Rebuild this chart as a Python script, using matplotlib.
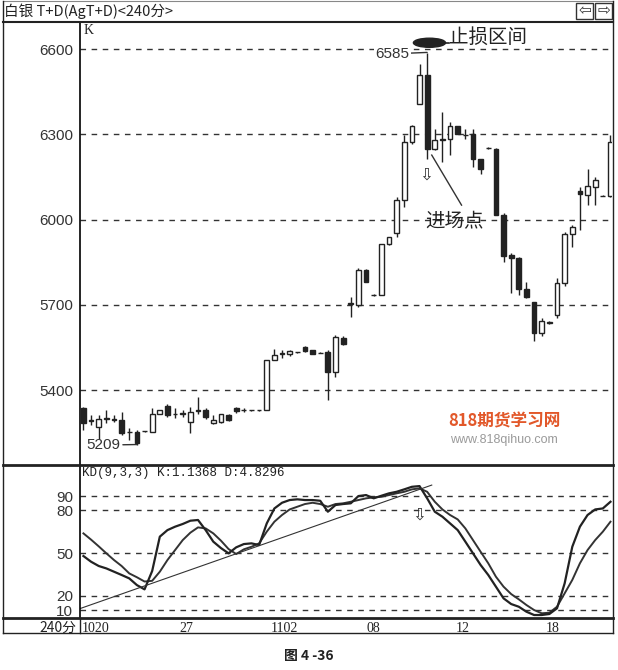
import numpy as np
import matplotlib.pyplot as plt
from matplotlib.lines import Line2D
from matplotlib.patches import Ellipse, Rectangle

# 240-minute candles, silver T+D
opens = [5336, 5295, 5271, 5300, 5297, 5295, 5254, 5254, 5256, 5254,
         5318, 5344, 5318, 5318, 5289, 5330, 5330, 5283, 5289, 5312,
         5336, 5330, 5330, 5330, 5330, 5505, 5528, 5526, 5534, 5552,
         5540, 5532, 5534, 5464, 5585, 5704, 5700, 5823, 5735, 5735,
         5914, 5954, 6068, 6273, 6407, 6507, 6250, 6281, 6285, 6328,
         6296, 6300, 6214, 6252, 6250, 6016, 5876, 5864, 5755, 5712,
         5601, 5638, 5665, 5776, 5949, 6101, 6086, 6115, 6084, 6084]
highs = [5342, 5312, 5312, 5330, 5312, 5324, 5266, 5260, 5258, 5336,
         5332, 5350, 5336, 5330, 5342, 5377, 5336, 5312, 5315, 5315,
         5340, 5336, 5332, 5332, 5505, 5546, 5540, 5540, 5536, 5556,
         5542, 5534, 5540, 5593, 5590, 5729, 5829, 5826, 5737, 5914,
         5940, 6080, 6296, 6331, 6547, 6585, 6320, 6378, 6343, 6330,
         6320, 6320, 6214, 6254, 6252, 6022, 5881, 5870, 5782, 5712,
         5654, 5645, 5794, 5957, 5981, 6115, 6179, 6150, 6086, 6296]
lows = [5260, 5277, 5230, 5283, 5289, 5242, 5225, 5209, 5254, 5254,
        5316, 5306, 5301, 5306, 5248, 5318, 5300, 5280, 5285, 5292,
        5320, 5324, 5328, 5328, 5330, 5505, 5515, 5522, 5532, 5535,
        5526, 5530, 5365, 5447, 5560, 5659, 5694, 5782, 5733, 5735,
        5910, 5940, 6045, 6267, 6405, 6214, 6244, 6203, 6226, 6302,
        6285, 6185, 6162, 6250, 6016, 5852, 5741, 5735, 5724, 5572,
        5589, 5632, 5654, 5765, 5905, 5963, 6051, 6051, 6082, 6080]
closes = [5283, 5293, 5300, 5302, 5298, 5248, 5252, 5213, 5256, 5318,
          5330, 5312, 5316, 5319, 5324, 5328, 5306, 5295, 5315, 5295,
          5328, 5331, 5330, 5330, 5505, 5523, 5530, 5538, 5534, 5538,
          5529, 5532, 5464, 5587, 5564, 5706, 5823, 5782, 5735, 5914,
          5940, 6068, 6273, 6328, 6507, 6250, 6281, 6283, 6328, 6302,
          6296, 6214, 6179, 6252, 6016, 5872, 5864, 5755, 5729, 5601,
          5642, 5640, 5776, 5949, 5975, 6089, 6117, 6138, 6084, 6273]

# KD(9,3,3)
k_vals = [47.9, 43.9, 40.9, 39.2, 36.9, 34.6, 32.2, 27.5, 24.5, 37.4,
          61.5, 66.1, 68.5, 70.4, 72.7, 73.2, 66.1, 58.0, 53.5, 49.8,
          54.0, 56.3, 56.8, 55.6, 70.8, 81.3, 85.3, 87.2, 87.7, 87.2,
          87.2, 86.7, 79.0, 83.7, 84.4, 84.9, 90.0, 90.7, 88.4, 90.2,
          91.9, 93.0, 94.7, 96.5, 97.0, 88.4, 79.0, 75.5, 70.8, 66.1,
          58.0, 49.8, 41.6, 34.6, 26.4, 18.2, 14.2, 12.3, 8.8, 6.5,
          6.5, 7.2, 11.2, 28.7, 54.4, 68.5, 76.7, 80.6, 81.3, 86.0]
d_vals = [63.8, 59.4, 54.7, 49.8, 45.1, 40.9, 35.7, 33.0, 30.0, 30.5,
          36.9, 45.1, 52.1, 59.1, 64.3, 68.0, 67.3, 63.8, 58.7, 52.8,
          49.3, 52.6, 54.4, 56.8, 65.0, 72.0, 76.7, 80.6, 82.5, 84.4,
          85.3, 84.4, 82.5, 84.4, 84.9, 86.0, 87.2, 88.4, 89.1, 89.5,
          90.7, 91.9, 93.0, 94.7, 95.4, 93.0, 86.0, 80.6, 76.7, 73.6,
          67.3, 59.1, 50.9, 42.8, 33.4, 26.4, 21.2, 17.5, 13.5, 10.0,
          7.7, 8.1, 12.3, 21.7, 31.1, 42.8, 52.1, 59.1, 65.0, 72.0]

price_ticks = [5400, 5700, 6000, 6300, 6600]
kd_ticks = [10, 20, 50, 80, 90]
date_labels = ['27', '1102', '08', '12', '18']
date_pos = [13.5, 26.3, 37.9, 49.6, 61.4]

# trend line on KD (start / end)
trend_x = [-0.45, 45.6]
trend_y = [11.0, 97.7]

plt.rcParams['font.family'] = ['Liberation Sans', 'Noto Sans CJK SC', 'DejaVu Sans']

W, H = 618, 670
fig = plt.figure(figsize=(W / 100, H / 100), dpi=100)


def fx(x):
    return x / W


def fy(y):
    return 1 - y / H


def fline(x0, y0, x1, y1, lw=1.0, color='#222222'):
    fig.add_artist(Line2D([fx(x0), fx(x1)], [fy(y0), fy(y1)], lw=lw, color=color))


ax = fig.add_axes([fx(80), fy(465), 532 / W, 443 / H])
ax2 = fig.add_axes([fx(80), fy(618), 532 / W, 153 / H], sharex=ax)

n = len(opens)
xs = np.arange(n)
dash = (0, (4, 4))

# candles
for i in range(n):
    o, h, l, c = opens[i], highs[i], lows[i], closes[i]
    ax.vlines(i, l, h, color='#222222', lw=1, zorder=2)
    up = c >= o
    ax.bar(i, abs(c - o), bottom=min(o, c), width=0.62,
           facecolor='white' if up else '#222222', edgecolor='#222222',
           lw=1, zorder=3)

for t in price_ticks:
    ax.axhline(t, color='#333333', lw=1, ls=dash, zorder=1)
ax.set_ylim(5137, 6695)
ax.set_xlim(-0.45, 69.2)
ax.set_yticks(price_ticks)
ax.set_yticklabels([str(t) for t in price_ticks], fontsize=11, color='#333333')
ax.tick_params(axis='y', length=0, pad=5)
ax.tick_params(axis='x', length=0, labelbottom=False)
for s in ['top', 'right', 'bottom']:
    ax.spines[s].set_visible(False)
ax.spines['left'].set_linewidth(1.2)
ax.text(0.006, 0.995, 'K', transform=ax.transAxes, va='top', ha='left',
        fontsize=10, family='Liberation Serif', color='#222222')

# annotations on price panel
ax.annotate('6585', xy=(45, 6588), xytext=(42.7, 6583), ha='right', va='center',
            fontsize=11, color='#333333', zorder=4,
            bbox=dict(boxstyle='square,pad=0.1', facecolor='white', edgecolor='none'),
            arrowprops=dict(arrowstyle='-', lw=1, color='#333333', shrinkA=0, shrinkB=0))
ax.annotate('5209', xy=(7, 5209), xytext=(4.8, 5207), ha='right', va='center',
            fontsize=11, color='#333333',
            arrowprops=dict(arrowstyle='-', lw=1, color='#333333', shrinkA=0, shrinkB=0))
ax.add_patch(Ellipse((45.3, 6622), 4.2, 32, facecolor='#222222', edgecolor='#222222', zorder=5))
ax.plot([47.3, 47.8], [6622, 6622], color='#222222', lw=1.2)
ax.text(47.8, 6640, '止损区间', fontsize=14, family='Noto Sans CJK SC',
        va='center', ha='left', color='#222222')
ax.text(44.9, 6157, '⇩', fontsize=12, family='DejaVu Sans', ha='center', va='center',
        color='#333333')
ax.plot([45.6, 49.5], [6227, 6051], color='#333333', lw=1)
ax.text(44.8, 5992, '进场点', fontsize=14, family='Noto Sans CJK SC',
        va='center', ha='left', color='#222222')

# KD panel
ax2.plot(xs, d_vals, color='#333333', lw=1.4)
ax2.plot(xs, k_vals, color='#222222', lw=1.6)
ax2.plot(trend_x, trend_y, color='#333333', lw=0.8)
for t in kd_ticks:
    ax2.axhline(t, color='#333333', lw=1, ls=dash, zorder=0)
ax2.set_ylim(4.4, 111.8)
ax2.set_yticks(kd_ticks)
ax2.set_yticklabels([str(t) for t in kd_ticks], fontsize=11, color='#333333')
ax2.tick_params(axis='y', length=0, pad=5)
ax2.tick_params(axis='x', length=0, labelbottom=False)
for s in ['top', 'right', 'bottom']:
    ax2.spines[s].set_visible(False)
ax2.spines['left'].set_linewidth(1.2)
ax2.text(0.004, 0.985, 'KD(9,3,3) K:1.1368 D:4.8296', transform=ax2.transAxes,
         va='top', ha='left', fontsize=9, family='Liberation Mono', color='#222222')
ax2.text(44.0, 77, '⇩', fontsize=12, family='DejaVu Sans', ha='center', va='center',
         color='#333333')

# date row
ax2.text(0.004, -0.07, '1020', transform=ax2.transAxes, va='center', ha='left',
         fontsize=10, family='Liberation Serif', color='#222222')
for p, lab in zip(date_pos, date_labels):
    ax2.text(p, -0.07, lab, transform=ax2.get_xaxis_transform(), va='center',
             ha='center', fontsize=10, family='Liberation Serif', color='#222222')
fig.text(fx(76), fy(628), '240分', ha='right', va='center', fontsize=10,
         family='Noto Sans CJK SC', color='#222222')

# frame and title bar
fline(3, 1, 613, 1, lw=0.8, color='#888888')
fline(3, 22, 613, 22, lw=1.5)
fline(3, 1, 3, 633, lw=1)
fline(613, 1, 613, 633, lw=1)
fline(3, 465, 613, 465, lw=2)
fline(3, 618, 613, 618, lw=2)
fline(3, 633, 613, 633, lw=1)
fline(80, 618, 80, 633, lw=1)
fig.text(fx(4), fy(11), '白银 T+D(AgT+D)<240分>', ha='left', va='center',
         fontsize=10.5, family='Noto Sans CJK SC', color='#222222')
for bx, arrow in [(576, '⇦'), (595, '⇨')]:
    fig.add_artist(Rectangle((fx(bx), fy(19)), 17 / W, 16 / H, fill=False,
                             lw=1, edgecolor='#333333'))
    fig.text(fx(bx + 8.5), fy(11), arrow, ha='center', va='center', fontsize=11,
             family='DejaVu Sans', color='#333333')

# site watermark
fig.text(fx(504), fy(421), '818期货学习网', ha='center', va='center', fontsize=12,
         fontweight='bold', family='Noto Sans CJK SC', color='#e2582a')
fig.text(fx(504), fy(440), 'www.818qihuo.com', ha='center', va='center', fontsize=9,
         color='#9a9a9a')

fig.text(0.5, fy(656), '图 4 -36', ha='center', va='center', fontsize=10,
         fontweight='bold', family='Noto Sans CJK SC', color='#222222')

fig.savefig('out.png', dpi=100)
